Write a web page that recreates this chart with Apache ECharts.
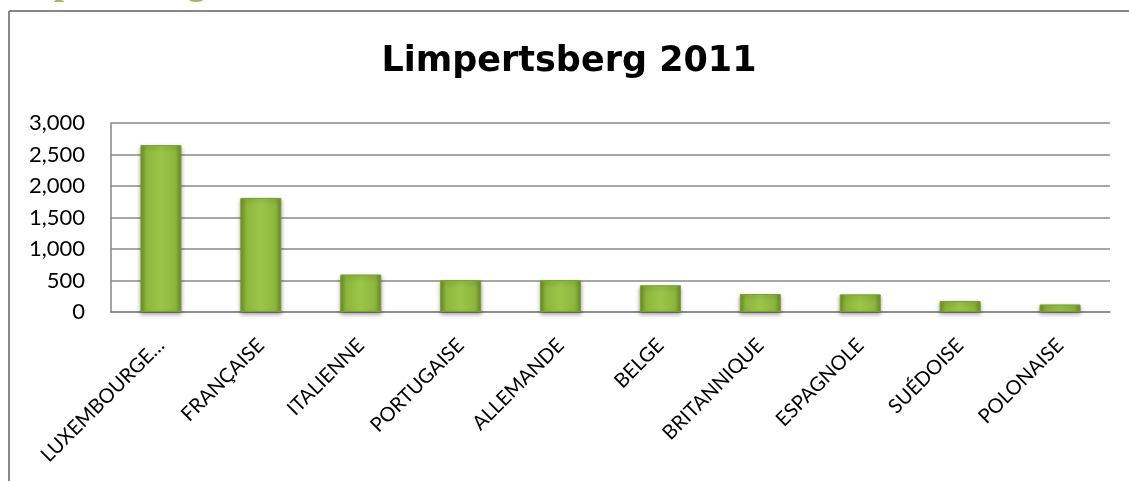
<!DOCTYPE html>
<html>
<head>
<meta charset="utf-8">
<script src="https://cdn.jsdelivr.net/npm/echarts@6/dist/echarts.min.js"></script>
<style>
html,body{margin:0;padding:0;background:#fff;}
#c{width:1129px;height:481px;}
</style>
</head>
<body>
<div id="c"></div>
<script>
const categories = ["LUXEMBOURGE…","FRANÇAISE","ITALIENNE","PORTUGAISE","ALLEMANDE","BELGE","BRITANNIQUE","ESPAGNOLE","SUÉDOISE","POLONAISE"];
const residents = [2650, 1810, 595, 505, 505, 425, 285, 280, 175, 120];
const titleText = "Limpertsberg 2011";
const headingText = "Limpertsberg";

const chart = echarts.init(document.getElementById('c'), null, {renderer:'canvas'});
chart.setOption({
  animation: false,
  backgroundColor: '#fff',
  title: {
    text: titleText,
    left: 564, top: 39, textAlign: 'center',
    textStyle: {fontFamily: 'DejaVu Sans', fontWeight: 'bold', fontSize: 35, color: '#000'}
  },
  graphic: [
    {type:'line', shape:{x1:9, y1:11, x2:1129, y2:11}, style:{stroke:'#878787', lineWidth:2}, silent:true},
    {type:'line', shape:{x1:9, y1:11, x2:9, y2:481}, style:{stroke:'#878787', lineWidth:2}, silent:true},
    {type:'text', x: -12, y: -34, style:{text: headingText, font:'bold 37px "Liberation Serif"', fill:'#9bbb59'}, silent:true}
  ],
  grid: {left: 111, right: 19, top: 123, bottom: 169, containLabel: false},
  xAxis: {
    type: 'category',
    data: categories,
    axisLine: {show: true, lineStyle: {color: '#868686', width: 1.5}},
    axisTick: {show: false},
    axisLabel: {interval: 0, rotate: 45, margin: 30, fontFamily: 'Lato', fontSize: 20, color: '#000'}
  },
  yAxis: {
    type: 'value',
    min: 0, max: 3000, interval: 500,
    axisLine: {show: true, lineStyle: {color: '#868686', width: 1.5}},
    axisTick: {show: false},
    splitLine: {lineStyle: {color: '#8a8a8a', width: 1.5}},
    axisLabel: {margin: 26, fontFamily: 'Lato', fontSize: 22, color: '#000',
      formatter: v => v.toLocaleString('en-US')}
  },
  series: [{
    type: 'bar',
    data: residents,
    barWidth: 41,
    itemStyle: {
      color: new echarts.graphic.LinearGradient(0, 0, 1, 0, [
        {offset: 0, color: '#6d8e28'},
        {offset: 0.15, color: '#8db63c'},
        {offset: 0.5, color: '#9cc64a'},
        {offset: 0.85, color: '#8db63c'},
        {offset: 1, color: '#6d8e28'}
      ]),
      borderColor: '#7c9f34',
      borderWidth: 1,
      shadowColor: 'rgba(0,0,0,0.35)',
      shadowBlur: 4,
      shadowOffsetY: 2
    }
  }]
});
</script>
</body>
</html>
